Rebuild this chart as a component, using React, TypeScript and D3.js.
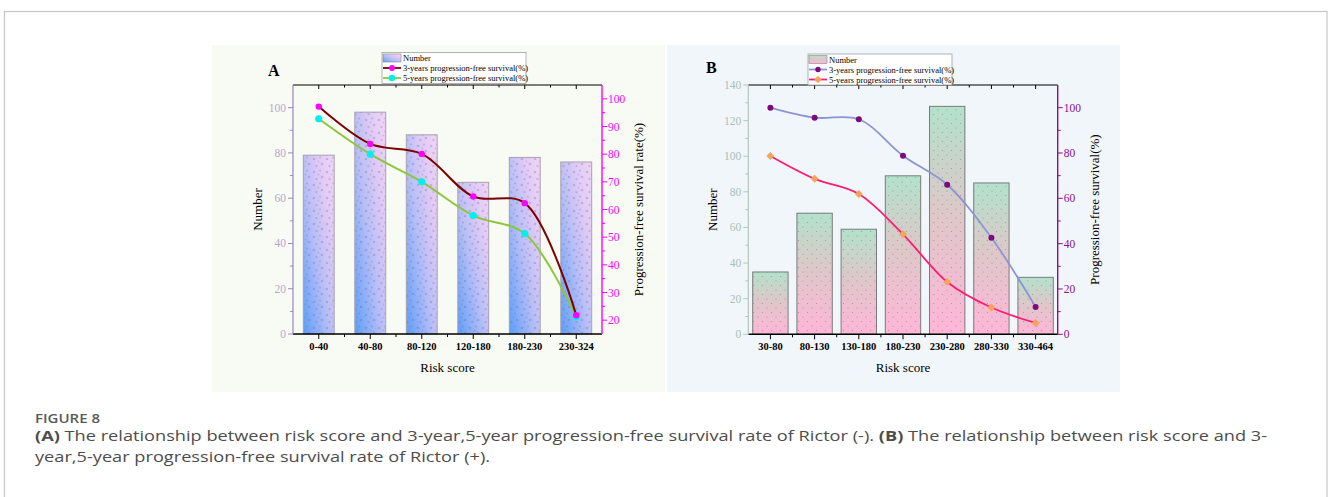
import React from "react";
import * as d3 from "d3";

// ---------- data ----------
const catsA = ["0-40", "40-80", "80-120", "120-180", "180-230", "230-324"];
const numberA = [79, 98, 88, 67, 78, 76];
const pfs3A = [97.2, 83.7, 80.1, 64.7, 62.3, 21.8];
const pfs5A = [92.8, 80.0, 70.0, 57.8, 51.3, 21.2];

const catsB = ["30-80", "80-130", "130-180", "180-230", "230-280", "280-330", "330-464"];
const numberB = [35, 68, 59, 89, 128, 85, 32];
const pfs3B = [100, 95.6, 94.9, 78.8, 66.0, 42.6, 12.1];
const pfs5B = [78.7, 68.6, 61.9, 44.1, 23.1, 11.8, 5.0];

const leftTicksA = [0, 20, 40, 60, 80, 100];
const rightTicksA = [20, 30, 40, 50, 60, 70, 80, 90, 100];
const leftTicksB = [0, 20, 40, 60, 80, 100, 120, 140];
const rightTicksB = [0, 20, 40, 60, 80, 100];

const legendLabels = ["Number", "3-years progression-free survival(%)", "5-years progression-free survival(%)"];

const SERIF = "'Liberation Serif', 'Times New Roman', serif";
const SANS = "'Open Sans', 'Noto Sans', sans-serif";

type PanelCfg = {
  id: string;
  letter: string;
  letterX: number;
  letterY: number;
  bg: [number, number, number, number];
  x0: number; x1: number; yTop: number; yBot: number;
  cats: string[];
  bars: number[];
  s3: number[];
  s5: number[];
  leftDomain: [number, number];
  leftTicks: number[];
  leftMinorStep: number;
  rightDomain: [number, number];
  rightTicks: number[];
  rightMinorStep: number;
  leftAxisColor: string;
  leftLabelColor: string;
  rightColor: string;
  barFrac: number;
  barFill: string;
  barPattern: string;
  barStroke: string;
  line3: string; mark3: string; mark3Type: "circle" | "diamond"; r3: number;
  line5: string; mark5: string; mark5Type: "circle" | "diamond"; r5: number;
  lineW: number;
  rightTitle: string;
  legendX: number; legendY: number; legendW: number; legendH: number;
};

function Marker({ type, x, y, r, fill }: { type: string; x: number; y: number; r: number; fill: string }) {
  if (type === "diamond") {
    return <path d={`M${x},${y - r}L${x + r},${y}L${x},${y + r}L${x - r},${y}Z`} fill={fill} />;
  }
  return <circle cx={x} cy={y} r={r} fill={fill} />;
}

function Panel({ c }: { c: PanelCfg }) {
  const x = d3.scalePoint<string>().domain(c.cats).range([c.x0, c.x1]).padding(0.5);
  const step = x.step();
  const bw = step * c.barFrac;
  const yL = d3.scaleLinear().domain(c.leftDomain).range([c.yBot, c.yTop]);
  const yR = d3.scaleLinear().domain(c.rightDomain).range([c.yBot, c.yTop]);
  const line = d3
    .line<number>()
    .x((_, i) => x(c.cats[i]) as number)
    .y((d) => yR(d))
    .curve(d3.curveCatmullRom.alpha(0.5));

  const leftMinor = d3.range(c.leftDomain[0] + c.leftMinorStep, c.leftDomain[1] + 0.001, c.leftMinorStep).filter((v) => !c.leftTicks.includes(v) && v < c.leftDomain[1]);
  const rightMinor = d3.range(Math.ceil(c.rightDomain[0] / c.rightMinorStep) * c.rightMinorStep, c.rightDomain[1] + 0.001, c.rightMinorStep).filter((v) => !c.rightTicks.includes(v) && v > c.rightDomain[0] && v < c.rightDomain[1]);
  const mids = c.cats.slice(1).map((k) => (x(k) as number) - step / 2);

  const lx = c.legendX, ly = c.legendY;
  const rowY = [ly + 5.5, ly + 15.5, ly + 25.5];
  const midX = (c.x0 + c.x1) / 2;
  const midY = (c.yTop + c.yBot) / 2;

  return (
    <g>
      <rect x={c.bg[0]} y={c.bg[1]} width={c.bg[2]} height={c.bg[3]} fill={c.id === "A" ? "#f8fbf3" : "#f1f6fa"} />
      {c.bars.map((v, i) => {
        const cx = x(c.cats[i]) as number;
        return (
          <g key={"b" + i}>
            <rect x={cx - bw / 2} y={yL(v)} width={bw} height={c.yBot - yL(v)} fill={c.barFill} />
            <rect x={cx - bw / 2} y={yL(v)} width={bw} height={c.yBot - yL(v)} fill={c.barPattern} stroke={c.barStroke} strokeWidth={1} />
          </g>
        );
      })}
      <path d={line(c.s5) || ""} fill="none" stroke={c.line5} strokeWidth={c.lineW} />
      {c.s5.map((v, i) => (
        <Marker key={"m5" + i} type={c.mark5Type} x={x(c.cats[i]) as number} y={yR(v)} r={c.r5} fill={c.mark5} />
      ))}
      <path d={line(c.s3) || ""} fill="none" stroke={c.line3} strokeWidth={c.lineW} />
      {c.s3.map((v, i) => (
        <Marker key={"m3" + i} type={c.mark3Type} x={x(c.cats[i]) as number} y={yR(v)} r={c.r3} fill={c.mark3} />
      ))}

      <line x1={c.x0} x2={c.x1} y1={c.yTop} y2={c.yTop} stroke="#000" strokeWidth={1.2} />
      {c.cats.map((k) => (
        <line key={"tt" + k} x1={x(k) as number} x2={x(k) as number} y1={c.yTop} y2={c.yTop + 4} stroke="#000" />
      ))}
      {mids.map((m, i) => (
        <line key={"tm" + i} x1={m} x2={m} y1={c.yTop} y2={c.yTop + 2.5} stroke="#000" />
      ))}
      <line x1={c.x0} x2={c.x1} y1={c.yBot} y2={c.yBot} stroke="#000" strokeWidth={1.4} />
      {c.cats.map((k) => (
        <g key={"bt" + k}>
          <line x1={x(k) as number} x2={x(k) as number} y1={c.yBot} y2={c.yBot + 5} stroke="#000" />
          <text x={x(k) as number} y={c.yBot + 16} textAnchor="middle" fontFamily={SERIF} fontWeight="bold" fontSize={10.5} fill="#000">
            {k}
          </text>
        </g>
      ))}
      {mids.map((m, i) => (
        <line key={"bm" + i} x1={m} x2={m} y1={c.yBot} y2={c.yBot + 3} stroke="#000" />
      ))}
      <line x1={c.x0} x2={c.x0} y1={c.yTop} y2={c.yBot} stroke={c.leftAxisColor} strokeWidth={1.2} />
      {c.leftTicks.map((t) => (
        <g key={"lt" + t}>
          <line x1={c.x0 - 5} x2={c.x0} y1={yL(t)} y2={yL(t)} stroke={c.leftAxisColor} />
          <text x={c.x0 - 7} y={yL(t) + 4} textAnchor="end" fontFamily={SERIF} fontSize={11.5} fill={c.leftLabelColor}>
            {t}
          </text>
        </g>
      ))}
      {leftMinor.map((t) => (
        <line key={"lm" + t} x1={c.x0 - 3} x2={c.x0} y1={yL(t)} y2={yL(t)} stroke={c.leftAxisColor} />
      ))}
      <line x1={c.x1} x2={c.x1} y1={c.yTop} y2={c.yBot} stroke={c.rightColor} strokeWidth={1.4} />
      {c.rightTicks.map((t) => (
        <g key={"rt" + t}>
          <line x1={c.x1} x2={c.x1 + 5} y1={yR(t)} y2={yR(t)} stroke={c.rightColor} />
          <text x={c.x1 + 6} y={yR(t) + 4} textAnchor="start" fontFamily={SERIF} fontSize={11.5} fill={c.rightColor}>
            {t}
          </text>
        </g>
      ))}
      {rightMinor.map((t) => (
        <line key={"rm" + t} x1={c.x1} x2={c.x1 + 3} y1={yR(t)} y2={yR(t)} stroke={c.rightColor} />
      ))}
      <text x={midX} y={c.yBot + 38} textAnchor="middle" fontFamily={SERIF} fontSize={13} fill="#000">
        Risk score
      </text>
      <text transform={`translate(${c.x0 - 31},${midY}) rotate(-90)`} textAnchor="middle" fontFamily={SERIF} fontSize={13} fill="#000">
        Number
      </text>
      <text transform={`translate(${c.x1 + 41},${midY}) rotate(-90)`} textAnchor="middle" fontFamily={SERIF} fontSize={13} fill="#000">
        {c.rightTitle}
      </text>
      <text x={c.letterX} y={c.letterY} fontFamily={SERIF} fontWeight="bold" fontSize={16} fill="#000">
        {c.letter}
      </text>
      <rect x={lx} y={ly} width={c.legendW} height={c.legendH} fill="#fff" stroke="#a0a0a0" strokeWidth={0.8} />
      <rect x={lx + 1} y={rowY[0] - 4} width={18} height={8} fill={c.barFill} stroke="#888" strokeWidth={0.6} />
      <line x1={lx + 1} x2={lx + 19} y1={rowY[1]} y2={rowY[1]} stroke={c.line3} strokeWidth={1.8} />
      <Marker type={c.mark3Type} x={lx + 10} y={rowY[1]} r={c.r3 - 0.3} fill={c.mark3} />
      <line x1={lx + 1} x2={lx + 19} y1={rowY[2]} y2={rowY[2]} stroke={c.line5} strokeWidth={1.8} />
      <Marker type={c.mark5Type} x={lx + 10} y={rowY[2]} r={c.r5 - 0.3} fill={c.mark5} />
      {legendLabels.map((t, i) => (
        <text key={"lg" + i} x={lx + 21} y={rowY[i] + 3} fontFamily={SERIF} fontSize={8.5} fill="#000">
          {t}
        </text>
      ))}
    </g>
  );
}

export default function App() {
  const cfgA: PanelCfg = {
    id: "A", letter: "A", letterX: 268, letterY: 76,
    bg: [212, 45, 453, 347],
    x0: 293, x1: 602, yTop: 85, yBot: 334,
    cats: catsA, bars: numberA, s3: pfs3A, s5: pfs5A,
    leftDomain: [0, 110], leftTicks: leftTicksA, leftMinorStep: 10,
    rightDomain: [15, 105], rightTicks: rightTicksA, rightMinorStep: 5,
    leftAxisColor: "#9c84c8", leftLabelColor: "#b6a6cf", rightColor: "#ff00ff",
    barFrac: 0.6, barFill: "url(#gradA)", barPattern: "url(#patA)", barStroke: "#a8a2b0",
    line3: "#7b0000", mark3: "#ff00ff", mark3Type: "circle", r3: 3.2,
    line5: "#8cc63e", mark5: "#00f0f0", mark5Type: "circle", r5: 3.6,
    lineW: 2,
    rightTitle: "Progression-free survival rate(%)",
    legendX: 382, legendY: 52.5, legendW: 144, legendH: 31,
  };
  const cfgB: PanelCfg = {
    id: "B", letter: "B", letterX: 706, letterY: 73,
    bg: [667, 45, 453, 347],
    x0: 748.3, x1: 1057.7, yTop: 85, yBot: 334.3,
    cats: catsB, bars: numberB, s3: pfs3B, s5: pfs5B,
    leftDomain: [0, 140], leftTicks: leftTicksB, leftMinorStep: 10,
    rightDomain: [0, 110], rightTicks: rightTicksB, rightMinorStep: 10,
    leftAxisColor: "#b4c6be", leftLabelColor: "#a9c0b5", rightColor: "#8b108b",
    barFrac: 0.8, barFill: "url(#gradB)", barPattern: "url(#patB)", barStroke: "#7a7a7a",
    line3: "#8c94d2", mark3: "#7d0a7d", mark3Type: "circle", r3: 3,
    line5: "#ff1c72", mark5: "#f5a45a", mark5Type: "diamond", r5: 4,
    lineW: 1.8,
    rightTitle: "Progression-free survival(%)",
    legendX: 808, legendY: 54, legendW: 144, legendH: 31,
  };

  return (
    <svg width={1328} height={497} style={{ position: "absolute", left: 0, top: 0, display: "block", background: "#fff" }}>
      <defs>
        <linearGradient id="gradA" x1="0" y1="1" x2="1" y2="0">
          <stop offset="0" stopColor="#5d9ef8" />
          <stop offset="0.45" stopColor="#b8bff6" />
          <stop offset="0.75" stopColor="#e2cbf5" />
          <stop offset="1" stopColor="#efd6f4" />
        </linearGradient>
        <linearGradient id="gradB" x1="0" y1="0" x2="0" y2="1">
          <stop offset="0" stopColor="#b2e2cb" />
          <stop offset="0.45" stopColor="#dcc8c8" />
          <stop offset="1" stopColor="#ffb6d8" />
        </linearGradient>
        <pattern id="patA" width="13" height="13" patternUnits="userSpaceOnUse">
          <circle cx="2" cy="3" r="1.3" fill="rgba(110,90,170,0.28)" />
          <circle cx="8" cy="1.5" r="1.1" fill="rgba(110,90,170,0.25)" />
          <circle cx="10" cy="8" r="1.3" fill="rgba(110,90,170,0.28)" />
          <circle cx="4.5" cy="10" r="1.2" fill="rgba(110,90,170,0.25)" />
          <circle cx="6.5" cy="5.5" r="0.9" fill="rgba(110,90,170,0.22)" />
        </pattern>
        <pattern id="patB" width="9" height="9" patternUnits="userSpaceOnUse">
          <circle cx="2" cy="2" r="0.6" fill="rgba(60,40,60,0.35)" />
          <circle cx="6.5" cy="6.5" r="0.6" fill="rgba(60,40,60,0.35)" />
        </pattern>
      </defs>
      <rect x={4.5} y={11.5} width={1322.5} height={500} fill="#fff" stroke="#c6c6c6" strokeWidth={1.2} />
      <Panel c={cfgA} />
      <Panel c={cfgB} />
      <g transform="translate(35,423) scale(1.25,1)">
        <text x={0} y={0} fontFamily={SANS} fontWeight={600} fontSize={12} fill="#595959">
          FIGURE 8
        </text>
      </g>
      <g transform="translate(35,440.5) scale(1.3,1)">
        <text x={0} y={0} fontFamily={SANS} fontSize={14} fill="#4d4d4d">
          <tspan fontWeight="bold">(A)</tspan> The relationship between risk score and 3-year,5-year progression-free survival rate of Rictor (-).{" "}
          <tspan fontWeight="bold">(B)</tspan> The relationship between risk score and 3-
        </text>
      </g>
      <g transform="translate(35,462) scale(1.3,1)">
        <text x={0} y={0} fontFamily={SANS} fontSize={14} fill="#4d4d4d">
          year,5-year progression-free survival rate of Rictor (+).
        </text>
      </g>
    </svg>
  );
}
